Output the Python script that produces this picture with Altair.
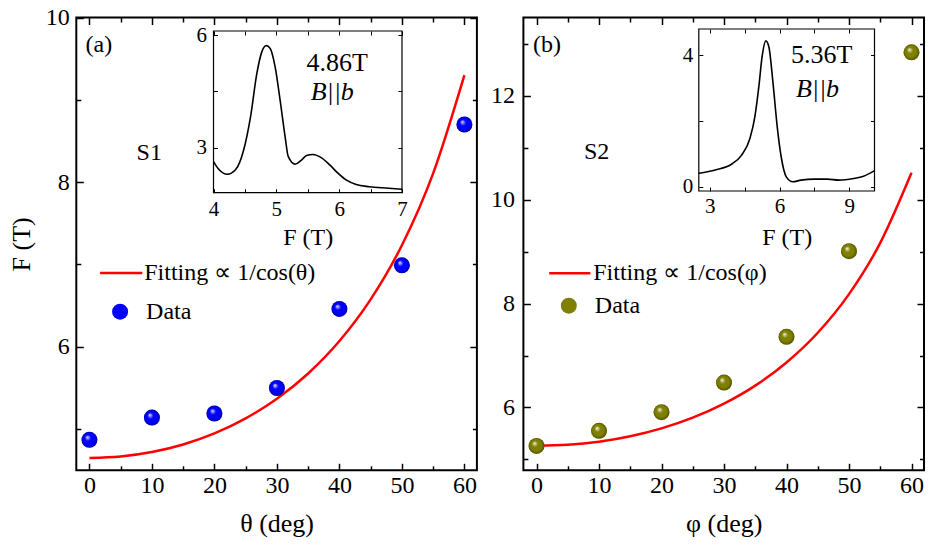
import altair as alt
import pandas as pd

# ---------------- data ----------------
angles = [0, 10, 20, 30, 40, 50, 60]
data_a = [4.87, 5.14, 5.19, 5.50, 6.46, 6.99, 8.70]
data_b = [5.26, 5.55, 5.91, 6.48, 7.36, 9.01, 12.84]

fit_angles = [0, 5, 10, 15, 20, 25, 30, 35, 40, 45, 50, 55, 60]
fit_a = [4.65, 4.668, 4.722, 4.814, 4.948, 5.131, 5.369, 5.676, 6.070, 6.576, 7.234, 8.107, 9.30]
fit_b = [5.26, 5.280, 5.341, 5.446, 5.598, 5.804, 6.074, 6.421, 6.867, 7.439, 8.183, 9.170, 10.52]

inset_a_F = [4.0, 4.09, 4.22, 4.35, 4.48, 4.59, 4.69, 4.77, 4.84, 4.90, 4.98, 5.06, 5.14,
             5.19, 5.30, 5.40, 5.48, 5.58, 5.72, 5.85, 5.98, 6.11, 6.27, 6.48, 6.79, 7.0]
inset_a_amp = [2.63, 2.41, 2.29, 2.41, 2.94, 3.83, 4.98, 5.56, 5.72, 5.65, 5.16, 4.27, 3.29,
               2.76, 2.56, 2.67, 2.79, 2.82, 2.73, 2.54, 2.32, 2.14, 2.02, 1.96, 1.92, 1.89]
inset_b_F = [2.53, 3.24, 3.95, 4.37, 4.73, 4.94, 5.11, 5.25, 5.41, 5.54, 5.72, 5.90, 6.07,
             6.29, 6.57, 6.92, 7.49, 8.05, 8.55, 9.18, 9.61, 10.08]
inset_b_amp = [0.41, 0.51, 0.69, 0.96, 1.47, 2.13, 3.04, 3.95, 4.43, 4.25, 3.14, 1.82, 0.91,
               0.30, 0.15, 0.20, 0.23, 0.23, 0.20, 0.25, 0.32, 0.49]

x_major = [0, 10, 20, 30, 40, 50, 60]
x_minor = [5, 15, 25, 35, 45, 55]
ya_major = [6, 8, 10]
ya_minor = [5, 7, 9]
yb_major = [6, 8, 10, 12]
yb_minor = [5, 7, 9, 11, 13]
ia_x_ticks = [4, 4.5, 5, 5.5, 6, 6.5, 7]
ia_y_ticks = [3, 4.5, 6]
ib_x_ticks = [3, 4.5, 6, 7.5, 9]
ib_y_ticks = [0, 2, 4]

# ---------------- layout ----------------
W, H = 918, 530
FONT = "Liberation Serif"


def axis(orient, pos, values, size, width=1.5, **kw):
    if orient == "bottom":
        off = pos - H
    elif orient in ("top", "left"):
        off = -pos
    else:
        off = pos - W
    base = dict(orient=orient, offset=off, values=values, tickSize=size, tickWidth=width,
                tickColor="black", domain=False, grid=False, labelFlush=False,
                labelFont=FONT, labelColor="black", titleFont=FONT, titleColor="black",
                titleFontWeight="normal")
    base.update(kw)
    if "title" not in base:
        base["title"] = None
    if "labels" not in base:
        base["labels"] = False
    return alt.Axis(**base)


def one():
    return alt.Data(values=[{}])


def text(s, x, y, sx, sy, size=24, align="left", style="normal"):
    return alt.Chart(one()).mark_text(
        text=s, font=FONT, fontSize=size, align=align, baseline="middle",
        fontStyle=style, color="black"
    ).encode(
        x=alt.XDatum(x, scale=sx, axis=None, type="quantitative"),
        y=alt.YDatum(y, scale=sy, axis=None, type="quantitative"),
    )


def shine():
    return alt.RadialGradient(
        gradient="radial",
        stops=[
            alt.GradientStop(color="rgba(255,255,255,0.95)", offset=0),
            alt.GradientStop(color="rgba(255,255,255,0)", offset=0.38),
            alt.GradientStop(color="rgba(0,0,0,0)", offset=0.7),
            alt.GradientStop(color="rgba(0,0,0,0.35)", offset=1),
        ],
        x1=0.36, y1=0.32, r1=0, x2=0.5, y2=0.5, r2=0.5,
    )


def panel(P):
    xL, xR = P["xr"]
    yB, yT = P["yr"]
    sx = alt.Scale(domain=P["xdom"], range=P["xr"], nice=False, zero=False)
    sy = alt.Scale(domain=P["ydom"], range=P["yr"], nice=False, zero=False)

    left_kw = dict(labels=True, labelFontSize=24, labelPadding=P["ylabpad"])
    if P.get("ytitle"):
        left_kw.update(title=P["ytitle"], titleFontSize=26, titleX=13.5 - (xL + 7),
                       titleBaseline="middle", titleAlign="center", titleAngle=-90)

    fit_df = pd.DataFrame({"x": fit_angles, "y": P["fit"], "lab": P["fitlab"]})
    pts_df = pd.DataFrame({"x": angles, "y": P["data"], "lab": "Data"})

    line = alt.Chart(fit_df).mark_line(strokeWidth=2.5, interpolate="monotone").encode(
        x=alt.X("x:Q", scale=sx, axis=axis("bottom", yB - 7, x_major, 7, labels=True,
                                             labelFontSize=24, labelPadding=3,
                                             title=P["xtitle"], titleFontSize=26,
                                             titleY=515 - (yB - 7), titleBaseline="middle")),
        y=alt.Y("y:Q", scale=sy, axis=axis("left", xL + 7, P["ymaj"], 7, **left_kw)),
        stroke=alt.Stroke("lab:N", scale=alt.Scale(domain=[P["fitlab"]], range=["#ff0000"]),
                          legend=alt.Legend(orient="none", legendX=P["leg1"][0], legendY=P["leg1"][1],
                                            title=None, symbolType="stroke",
                                            symbolSize=P["leglen"] ** 2, symbolStrokeWidth=2.5,
                                            labelFont=FONT, labelFontSize=24, labelColor="black",
                                            labelOffset=P["leg1"][2], padding=0, labelLimit=500)),
    )

    pts = alt.Chart(pts_df).mark_circle(size=256, opacity=1).encode(
        x=alt.X("x:Q", scale=sx, axis=axis("bottom", yB - 4.5, x_minor, 4.5)),
        y=alt.Y("y:Q", scale=sy, axis=axis("left", xL + 4.5, P["ymin"], 4.5)),
        fill=alt.Fill("lab:N", scale=alt.Scale(domain=["Data"], range=[P["color"]]),
                      legend=alt.Legend(orient="none", legendX=P["leg2"][0], legendY=P["leg2"][1],
                                        title=None, symbolType="circle", symbolSize=256,
                                        symbolStrokeWidth=0, labelFont=FONT, labelFontSize=24,
                                        labelColor="black", labelOffset=P["leg2"][2], padding=0)),
    )

    gloss = alt.Chart(pts_df).mark_circle(size=256, opacity=1, fill=shine()).encode(
        x=alt.X("x:Q", scale=sx, axis=axis("top", yT + 7, x_major, 7)),
        y=alt.Y("y:Q", scale=sy, axis=axis("right", xR - 7, P["ymaj"], 7)),
    )

    frame = alt.Chart(one()).mark_rect(fill="transparent", stroke="black", strokeWidth=2).encode(
        x=alt.XDatum(P["xdom"][0], scale=sx, type="quantitative",
                     axis=axis("top", yT + 4.5, x_minor, 4.5)),
        x2=alt.X2Datum(P["xdom"][1]),
        y=alt.YDatum(P["ydom"][0], scale=sy, type="quantitative",
                     axis=axis("right", xR - 4.5, P["ymin"], 4.5)),
        y2=alt.Y2Datum(P["ydom"][1]),
    )

    lab1 = text(P["tag"], P["tagpos"][0], P["tagpos"][1], sx, sy)
    lab2 = text(P["sample"], P["samplepos"][0], P["samplepos"][1], sx, sy)

    # ---- inset ----
    I = P["inset"]
    iL, iR = I["xr"]
    iB, iT = I["yr"]
    isx = alt.Scale(domain=I["xdom"], range=I["xr"], nice=False, zero=False)
    isy = alt.Scale(domain=I["ydom"], range=I["yr"], nice=False, zero=False)
    ins_df = pd.DataFrame({"F": I["F"], "A": I["A"]})
    icurve = alt.Chart(ins_df).mark_line(color="black", strokeWidth=1.6, interpolate="monotone").encode(
        x=alt.X("F:Q", scale=isx,
                axis=axis("bottom", iB - 4, I["xt"], 4, width=1, labels=True, labelFontSize=21,
                          labelPadding=I["xlabpad"], labelExpr=I["xexpr"],
                          title="F (T)", titleFontSize=24, titleY=229 - (iB - 4),
                          titleBaseline="middle")),
        y=alt.Y("A:Q", scale=isy,
                axis=axis("left", iL + 4, I["yt"], 4, width=1, labels=True, labelFontSize=21,
                          labelPadding=I["ylabpad"], labelExpr=I["yexpr"])),
    )
    iframe = alt.Chart(one()).mark_rect(fill="transparent", stroke="black", strokeWidth=1.2).encode(
        x=alt.XDatum(I["xdom"][0], scale=isx, type="quantitative",
                     axis=axis("top", iT + 4, I["xt"], 4, width=1)),
        x2=alt.X2Datum(I["xdom"][1]),
        y=alt.YDatum(I["ydom"][0], scale=isy, type="quantitative",
                     axis=axis("right", iR - 4, I["yt"], 4, width=1)),
        y2=alt.Y2Datum(I["ydom"][1]),
    )
    it1 = text(I["t1"], I["t1pos"][0], I["t1pos"][1], isx, isy, size=26, align="center")
    it2 = text("B||b", I["t2pos"][0], I["t2pos"][1], isx, isy, size=26, align="center", style="italic")

    return [line, pts, gloss, frame, lab1, lab2, icurve, iframe, it1, it2]


PA = dict(
    xr=[68.3, 468.9], yr=[462.3, 9.5], xdom=[-2.1, 62], ydom=[4.5, 10],
    ymaj=ya_major, ymin=ya_minor, ylabpad=7, ytitle="F (T)", xtitle="θ (deg)",
    fit=fit_a, data=data_a, fitlab="Fitting ∝ 1/cos(θ)", color="#0000ff",
    leg1=(90.7, 242.6, 0.5), leg2=(100.1, 291.7, 14), leglen=42.2,
    tag="(a)", tagpos=(-0.63, 9.66), sample="S1", samplepos=(7.54, 8.35),
    inset=dict(xr=[205.5, 394.0], yr=[184.7, 23], xdom=[4, 7], ydom=[1.8, 6.11],
               F=inset_a_F, A=inset_a_amp, xt=ia_x_ticks, yt=ia_y_ticks,
               xexpr="datum.value % 1 === 0 ? format(datum.value, 'd') : ''",
               yexpr="datum.value % 3 === 0 ? format(datum.value, 'd') : ''",
               xlabpad=6, ylabpad=7, t1="4.86T", t1pos=(5.97, 5.26), t2pos=(5.89, 4.49)),
)

PB = dict(
    xr=[515.4, 916], yr=[462.3, 9.5], xdom=[-2.1, 62], ydom=[4.79, 13.51],
    ymaj=yb_major, ymin=yb_minor, ylabpad=9, xtitle="φ (deg)",
    fit=fit_b, data=data_b, fitlab="Fitting ∝ 1/cos(φ)", color="#808000",
    leg1=(539.8, 243.3, 1.4), leg2=(548.8, 285.7, 14), leglen=41.2,
    tag="(b)", tagpos=(-0.57, 12.98), sample="S2", samplepos=(7.58, 10.92),
    inset=dict(xr=[690.8, 866.5], yr=[183, 21], xdom=[2.53, 10.08], ydom=[-0.13, 4.79],
               F=inset_b_F, A=inset_b_amp, xt=ib_x_ticks, yt=ib_y_ticks,
               xexpr="datum.value % 3 === 0 ? format(datum.value, 'd') : ''",
               yexpr="datum.value % 4 === 0 ? format(datum.value, 'd') : ''",
               xlabpad=4, ylabpad=6, t1="5.36T", t1pos=(7.81, 4.0), t2pos=(7.63, 2.96)),
)

layers = panel(PA) + panel(PB)

chart = alt.layer(*layers).resolve_scale(
    x="independent", y="independent", stroke="independent", fill="independent"
).properties(
    width=W, height=H, autosize=alt.AutoSizeParams(type="none"), padding=0
).configure_view(stroke="transparent")

chart.save("out.html", embed_options={"renderer": "svg", "actions": False})
